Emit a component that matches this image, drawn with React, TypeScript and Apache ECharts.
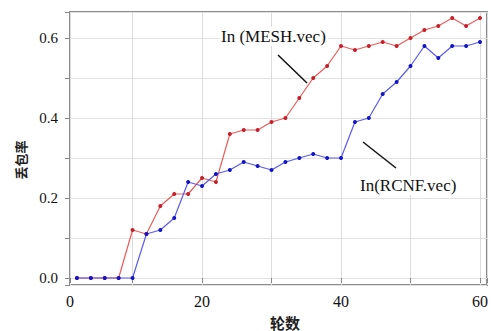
import React, { useEffect, useRef } from "react";
import * as echarts from "echarts";

const rounds = [2, 4, 6, 8, 10, 12, 14, 16, 18, 20, 22, 24, 26, 28, 30, 32, 34, 36, 38, 40, 42, 44, 46, 48, 50, 52, 54, 56, 58, 60];
const meshValues = [0, 0, 0, 0, 0.12, 0.11, 0.18, 0.21, 0.21, 0.25, 0.24, 0.36, 0.37, 0.37, 0.39, 0.40, 0.45, 0.50, 0.53, 0.58, 0.57, 0.58, 0.59, 0.58, 0.60, 0.62, 0.63, 0.65, 0.63, 0.65];
const rcnfValues = [0, 0, 0, 0, 0, 0.11, 0.12, 0.15, 0.24, 0.23, 0.26, 0.27, 0.29, 0.28, 0.27, 0.29, 0.30, 0.31, 0.30, 0.30, 0.39, 0.40, 0.46, 0.49, 0.53, 0.58, 0.55, 0.58, 0.58, 0.59];
const xTickLabels = ["0", "20", "40", "60"];
const yTickLabels = ["0.0", "0.2", "0.4", "0.6"];
const meshName = "In (MESH.vec)";
const rcnfName = "In(RCNF.vec)";
const xName = "轮数";
const yName = "丢包率";

export default function App() {
  const ref = useRef<HTMLDivElement>(null);
  useEffect(() => {
    if (!ref.current) return;
    const chart = echarts.init(ref.current, null, { renderer: "svg" });
    const serif = "'Liberation Serif', 'DejaVu Serif', serif";
    const cjk = "'Noto Sans CJK SC', sans-serif";
    chart.setOption({
      animation: false,
      backgroundColor: "#ffffff",
      grid: {
        left: 70,
        top: 12,
        width: 420,
        height: 273,
        show: true,
        borderColor: "#8c8c8c",
        borderWidth: 2,
        backgroundColor: "transparent",
      },
      xAxis: {
        type: "value",
        min: 1,
        max: 61,
        splitNumber: 6,
        axisLine: { show: false },
        axisTick: { show: true, inside: false, length: 5, lineStyle: { color: "#888" } },
        axisLabel: {
          fontFamily: serif,
          fontSize: 16,
          color: "#111",
          margin: 8,
          showMinLabel: true,
          showMaxLabel: true,
          formatter: (v: number) => {
            if (Math.abs(v - 1) < 1e-6) return xTickLabels[0];
            const s = String(Math.round(v));
            return xTickLabels.indexOf(s) > 0 ? s : "";
          },
        },
        splitLine: { show: true, lineStyle: { color: "#dcdcdc", width: 1 } },
      },
      yAxis: {
        type: "value",
        min: -0.0175,
        max: 0.665,
        splitNumber: 7,
        axisLine: { show: false },
        axisTick: { show: true, inside: false, length: 5, lineStyle: { color: "#888" } },
        axisLabel: {
          fontFamily: serif,
          fontSize: 15,
          color: "#111",
          margin: 12,
          formatter: (v: number) => {
            const s = v.toFixed(1);
            if (Math.abs(v * 10 - Math.round(v * 10)) > 1e-6) return "";
            return yTickLabels.indexOf(s) >= 0 ? s : "";
          },
        },
        splitLine: { show: true, lineStyle: { color: "#e2e2e2", width: 1 } },
      },
      series: [
        {
          name: meshName,
          type: "line",
          data: rounds.map((r, i) => [r, meshValues[i]]),
          symbol: "circle",
          symbolSize: 4,
          lineStyle: { color: "#f05a5a", width: 1.2 },
          itemStyle: { color: "#c81e2a" },
          z: 3,
        },
        {
          name: rcnfName,
          type: "line",
          data: rounds.map((r, i) => [r, rcnfValues[i]]),
          symbol: "circle",
          symbolSize: 4,
          lineStyle: { color: "#5a5af0", width: 1.2 },
          itemStyle: { color: "#1414c8" },
          z: 4,
        },
      ],
      graphic: [
        {
          type: "text",
          left: 219,
          top: 27,
          z: 10,
          style: {
            text: meshName,
            font: `17px ${serif}`,
            fill: "#111",
            backgroundColor: "#fff",
            padding: [1, 2],
          },
        },
        {
          type: "line",
          z: 10,
          shape: { x1: 278, y1: 55, x2: 307, y2: 83 },
          style: { stroke: "#111", lineWidth: 1.5 },
        },
        {
          type: "text",
          left: 358,
          top: 176,
          z: 10,
          style: {
            text: rcnfName,
            font: `17px ${serif}`,
            fill: "#111",
            backgroundColor: "#fff",
            padding: [1, 2],
          },
        },
        {
          type: "line",
          z: 10,
          shape: { x1: 363, y1: 142, x2: 396, y2: 168 },
          style: { stroke: "#111", lineWidth: 1.5 },
        },
        {
          type: "text",
          x: 285,
          y: 322,
          style: {
            text: xName,
            font: `bold 15px ${cjk}`,
            fill: "#222",
            align: "center",
            verticalAlign: "middle",
          },
        },
        {
          type: "text",
          x: 20,
          y: 160,
          rotation: Math.PI / 2,
          style: {
            text: yName,
            font: `bold 13px ${cjk}`,
            fill: "#222",
            align: "center",
            verticalAlign: "middle",
          },
        },
      ],
    });
    return () => chart.dispose();
  }, []);
  return (
    <div
      ref={ref}
      style={{ position: "absolute", left: 0, top: 0, width: 491, height: 331 }}
    />
  );
}
